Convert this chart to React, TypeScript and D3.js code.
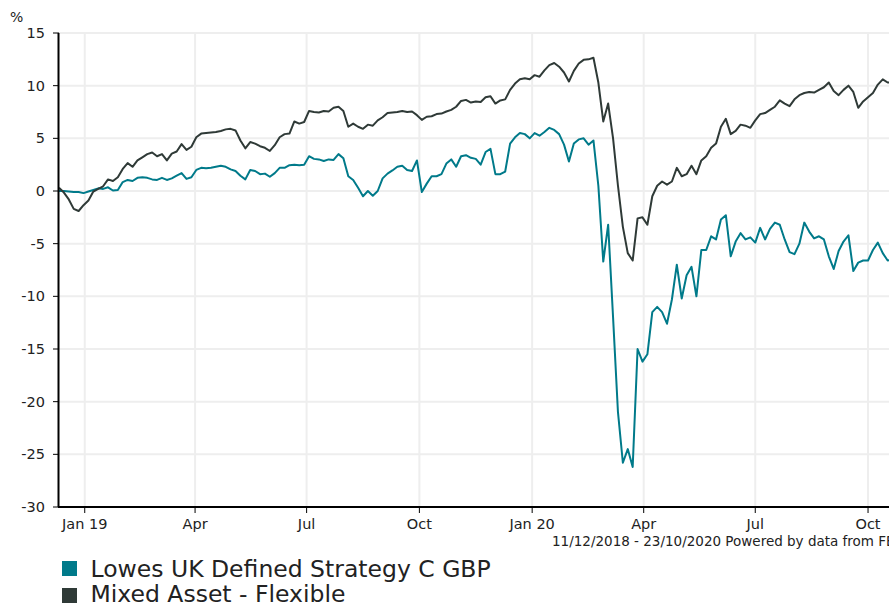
import * as d3 from 'd3';

// Performance in %, one reading every 4 days from 11/12/2018
const startDate = new Date(2018, 11, 11);
const endDate = new Date(2020, 9, 23);
const stepDays = 4;

const lowesValues = [
  0.0, 0.0, -0.05, -0.1, -0.1, -0.2, -0.05, 0.1, 0.25, 0.2,
  0.35, 0.05, 0.1, 0.85, 1.05, 0.95, 1.25, 1.3, 1.25, 1.1,
  1.05, 1.25, 1.05, 1.2, 1.45, 1.7, 1.15, 1.3, 2.0, 2.2,
  2.15, 2.2, 2.3, 2.4, 2.3, 2.05, 1.9, 1.45, 1.1, 2.0,
  1.9, 1.6, 1.65, 1.35, 1.7, 2.2, 2.2, 2.45, 2.5, 2.45,
  2.5, 3.3, 3.05, 3.0, 2.85, 3.0, 2.95, 3.5, 3.1, 1.4,
  1.05, 0.3, -0.5, 0.0, -0.45, 0.0, 1.2, 1.65, 1.95, 2.3,
  2.4, 2.0, 1.9, 2.9, -0.1, 0.7, 1.4, 1.4, 1.6, 2.6,
  3.0, 2.3, 3.3, 3.4, 3.15, 3.05, 2.5, 3.7, 4.0, 1.6,
  1.6, 1.85, 4.5, 5.1, 5.5, 5.4, 5.0, 5.5, 5.25, 5.6,
  6.0, 5.8, 5.4, 4.4, 2.8, 4.5, 4.9, 5.0, 4.4, 4.8,
  0.5, -6.7, -3.2, -12.0, -21.0, -25.8, -24.5, -26.2, -15.0, -16.2,
  -15.5, -11.5, -11.0, -11.5, -12.6, -10.3, -7.0, -10.2, -8.0, -7.2,
  -10.0, -5.6, -5.6, -4.3, -4.6, -2.7, -2.3, -6.2, -4.8, -4.0,
  -4.6, -4.4, -4.9, -3.5, -4.6, -3.6, -3.0, -3.2, -4.6, -5.8,
  -6.0, -5.0, -3.0, -3.85, -4.5, -4.3, -4.6, -6.2, -7.4, -5.7,
  -4.8, -4.2, -7.6, -6.8, -6.6, -6.6, -5.6, -4.9, -5.9, -6.6,
  -6.5,
];

const mixedValues = [
  0.3, -0.15, -0.8, -1.7, -1.9, -1.35, -0.9, -0.05, 0.2, 0.45,
  1.1, 0.95, 1.3, 2.1, 2.65, 2.3, 2.9, 3.2, 3.5, 3.65,
  3.3, 3.5, 2.9, 3.55, 3.75, 4.45, 3.9, 4.2, 5.1, 5.45,
  5.5, 5.55, 5.6, 5.7, 5.85, 5.9, 5.75, 4.8, 4.05, 4.65,
  4.5, 4.25, 4.1, 3.8, 4.35, 5.1, 5.4, 5.45, 6.6, 6.4,
  6.55, 7.6, 7.5, 7.45, 7.6, 7.55, 7.9, 8.0, 7.6, 6.1,
  6.4, 6.1, 5.9, 6.3, 6.2, 6.7, 7.0, 7.4, 7.45, 7.5,
  7.6, 7.5, 7.55, 7.2, 6.75, 7.05, 7.1, 7.3, 7.35, 7.55,
  7.7, 8.0, 8.55, 8.65, 8.4, 8.5, 8.45, 8.9, 9.0, 8.3,
  8.6, 8.7, 9.6, 10.2, 10.6, 10.7, 10.6, 11.0, 10.85, 11.45,
  11.95, 12.15, 11.8, 11.25, 10.4, 11.4, 12.1, 12.45, 12.5, 12.65,
  10.3, 6.6, 8.3, 5.0, 0.5, -3.4, -5.9, -6.6, -2.6, -2.5,
  -3.2, -0.5, 0.5, 0.9, 0.6, 0.9, 2.2, 1.4, 1.6, 2.4,
  1.6, 2.9, 3.3, 4.1, 4.5, 6.1, 6.85, 5.4, 5.7, 6.3,
  6.2, 6.0, 6.7, 7.3, 7.4, 7.7, 8.0, 8.6, 8.3, 8.05,
  8.7, 9.1, 9.3, 9.4, 9.35, 9.6, 9.85, 10.3, 9.5, 9.1,
  9.6, 10.0, 9.4, 7.9, 8.5, 8.9, 9.3, 10.1, 10.6, 10.3,
  10.3,
];

const yTicks = [15, 10, 5, 0, -5, -10, -15, -20, -25, -30];
const xTickDates = [
  new Date(2019, 0, 1), new Date(2019, 3, 1), new Date(2019, 6, 1), new Date(2019, 9, 1),
  new Date(2020, 0, 1), new Date(2020, 3, 1), new Date(2020, 6, 1), new Date(2020, 9, 1),
];
const xTickLabels = ['Jan 19', 'Apr', 'Jul', 'Oct', 'Jan 20', 'Apr', 'Jul', 'Oct'];

const seriesNames = ['Lowes UK Defined Strategy C GBP', 'Mixed Asset - Flexible'];
const seriesColors = ['#007a8a', '#2f3a37'];

const W = 889;
const H = 604;
const margin = { top: 33, left: 59, bottom: 507, right: 895 };
const FONT = 'Verdana, "DejaVu Sans", sans-serif';

export default function App() {
  const x = d3.scaleTime().domain([startDate, endDate]).range([margin.left, margin.right]);
  const y = d3.scaleLinear().domain([-30, 15]).range([margin.bottom, margin.top]);

  const toPoints = (vals: number[]) =>
    vals.map((v, i) => ({ date: d3.timeDay.offset(startDate, i * stepDays), value: v }));

  const line = d3.line<{ date: Date; value: number }>()
    .x(d => x(d.date))
    .y(d => y(d.value));

  const series = [toPoints(lowesValues), toPoints(mixedValues)];

  return (
    <svg
      width={W}
      height={H}
      style={{ position: 'absolute', left: 0, top: 0, overflow: 'hidden', background: '#fff' }}
      fontFamily={FONT}
    >
      <defs>
        <clipPath id="plot">
          <rect x={margin.left} y={margin.top - 5} width={margin.right - margin.left} height={margin.bottom - margin.top + 5} />
        </clipPath>
      </defs>

      {/* grid */}
      {yTicks.map(t => (
        <line key={'gy' + t} x1={margin.left} x2={W} y1={y(t)} y2={y(t)} stroke="#eeeeee" strokeWidth={2} />
      ))}
      {xTickDates.map((d, i) => (
        <line key={'gx' + i} x1={x(d)} x2={x(d)} y1={margin.top} y2={margin.bottom} stroke="#eeeeee" strokeWidth={2} />
      ))}

      {/* lines */}
      <g clipPath="url(#plot)">
        {series.map((s, i) => (
          <path key={i} d={line(s) || ''} fill="none" stroke={seriesColors[i]} strokeWidth={2} strokeLinejoin="round" />
        ))}
      </g>

      {/* y axis */}
      <line x1={margin.left - 0.5} x2={margin.left - 0.5} y1={margin.top} y2={margin.bottom} stroke="#000" strokeWidth={2} />
      {yTicks.map(t => (
        <g key={'ty' + t}>
          <line x1={margin.left - 6} x2={margin.left} y1={y(t)} y2={y(t)} stroke="#000" strokeWidth={1} />
          <text x={45} y={y(t)} dy="0.35em" textAnchor="end" fontSize={14.5} fill="#222">{t}</text>
        </g>
      ))}
      <text x={10} y={22} fontSize={14} fill="#222">%</text>

      {/* x axis */}
      <line x1={margin.left - 1} x2={W} y1={margin.bottom} y2={margin.bottom} stroke="#000" strokeWidth={2} />
      {xTickDates.map((d, i) => (
        <g key={'tx' + i}>
          <line x1={x(d)} x2={x(d)} y1={margin.bottom} y2={margin.bottom + 6} stroke="#000" strokeWidth={1} />
          <text x={x(d)} y={529} textAnchor="middle" fontSize={14.5} fill="#222">{xTickLabels[i]}</text>
        </g>
      ))}
      <text x={552} y={546} fontSize={13.5} fill="#222">
        11/12/2018 - 23/10/2020 Powered by data from FE
      </text>

      {/* legend */}
      {seriesNames.map((n, i) => (
        <g key={'lg' + i}>
          <rect x={62} y={561 + i * 27} width={15} height={15} fill={seriesColors[i]} />
          <text x={90.5} y={577 + i * 25} fontSize={23.5} fill="#222">{n}</text>
        </g>
      ))}
    </svg>
  );
}
